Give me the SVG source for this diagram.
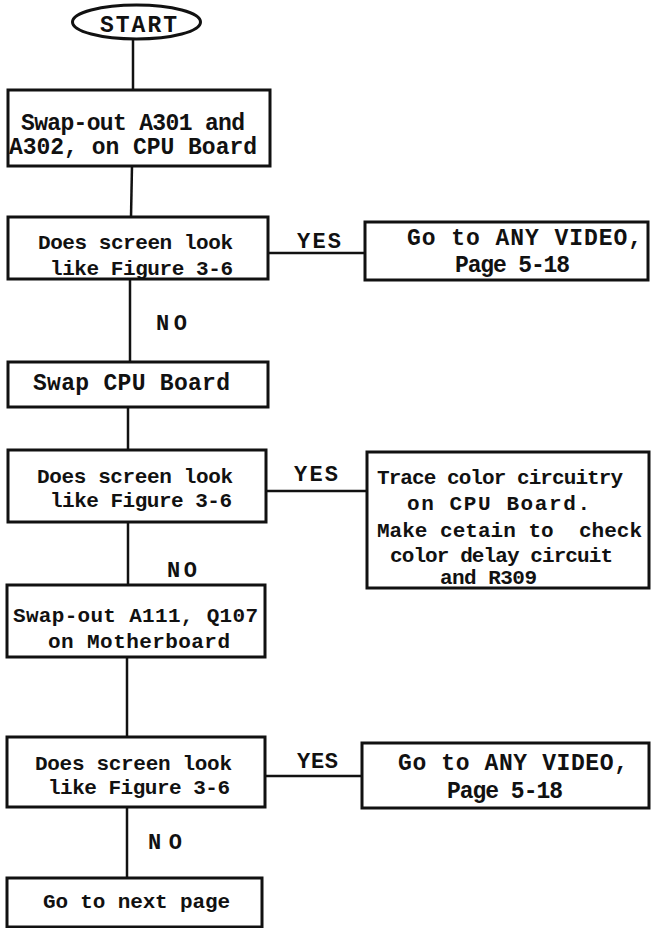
<svg xmlns="http://www.w3.org/2000/svg" width="651" height="928" viewBox="0 0 651 928">
<style>
  .box { fill: #fff; stroke: #111; stroke-width: 3; }
  .conn line { stroke: #111; stroke-width: 2.5; }
  text { font-family: "Liberation Mono", "DejaVu Sans Mono", monospace; font-weight: bold; fill: #111; font-size: 21px; }
  .big { font-size: 23px; }
  .lbl { font-size: 22px; }
</style>
<rect width="651" height="928" fill="#fff"/>
<g id="connectors" class="conn">
  <line x1="133" y1="39" x2="133" y2="90"/>
  <line x1="132" y1="166" x2="131" y2="217"/>
  <line x1="130" y1="279" x2="130" y2="362"/>
  <line x1="268" y1="253" x2="365" y2="253"/>
  <line x1="128" y1="407" x2="128" y2="450"/>
  <line x1="266" y1="491" x2="367" y2="491"/>
  <line x1="128" y1="522" x2="128" y2="585"/>
  <line x1="127" y1="657" x2="127" y2="737"/>
  <line x1="265" y1="776" x2="362" y2="776"/>
  <line x1="127" y1="807" x2="127" y2="878"/>
  <text x="297" y="248" class="lbl" textLength="44">YES</text>
  <text x="156" y="330" class="lbl" textLength="31">NO</text>
  <text x="294" y="481" class="lbl" textLength="44">YES</text>
  <text x="167" y="577" class="lbl" textLength="30">NO</text>
  <text x="297" y="768" class="lbl" textLength="41">YES</text>
  <text x="148" y="849" class="lbl" textLength="34">NO</text>
</g>
<g id="start">
  <ellipse class="box" cx="136.5" cy="22" rx="64" ry="17"/>
  <text x="100" y="32" class="big" textLength="77">START</text>
</g>
<g id="swap-a301">
  <rect class="box" x="8" y="90" width="262" height="76"/>
  <text x="21" y="130" class="big" textLength="224">Swap-out A301 and</text>
  <text x="9" y="154" class="big" textLength="248">A302, on CPU Board</text>
</g>
<g id="check1">
  <rect class="box" x="8" y="217" width="260" height="62"/>
  <text x="38" y="249" textLength="195">Does screen look</text>
  <text x="50" y="275" textLength="183">like Figure 3-6</text>
</g>
<g id="video1">
  <rect class="box" x="365" y="222" width="283" height="58"/>
  <text x="407" y="245" class="big" textLength="235">Go to ANY VIDEO,</text>
  <text x="455" y="272" class="big" textLength="115">Page 5-18</text>
</g>
<g id="swap-cpu">
  <rect class="box" x="8" y="362" width="260" height="45"/>
  <text x="33" y="390" class="big" textLength="197">Swap CPU Board</text>
</g>
<g id="check2">
  <rect class="box" x="8" y="450" width="258" height="72"/>
  <text x="37" y="483" textLength="196">Does screen look</text>
  <text x="50" y="507" textLength="182">like Figure 3-6</text>
</g>
<g id="trace">
  <rect class="box" x="367" y="452" width="282" height="136"/>
  <text x="377" y="484" textLength="246">Trace color circuitry</text>
  <text x="407" y="510" textLength="183">on CPU Board.</text>
  <text x="377" y="537" textLength="265" xml:space="preserve">Make cetain to  check</text>
  <text x="390" y="562" textLength="223">color delay circuit</text>
  <text x="440" y="584" textLength="97">and R309</text>
</g>
<g id="swap-a111">
  <rect class="box" x="7" y="585" width="258" height="72"/>
  <text x="13" y="622" textLength="245">Swap-out A111, Q107</text>
  <text x="48" y="648" textLength="182">on Motherboard</text>
</g>
<g id="check3">
  <rect class="box" x="7" y="737" width="258" height="70"/>
  <text x="35" y="770" textLength="197">Does screen look</text>
  <text x="48" y="794" textLength="182">like Figure 3-6</text>
</g>
<g id="video2">
  <rect class="box" x="362" y="743" width="287" height="65"/>
  <text x="398" y="770" class="big" textLength="230">Go to ANY VIDEO,</text>
  <text x="447" y="798" class="big" textLength="116">Page 5-18</text>
</g>
<g id="next-page">
  <rect class="box" x="7" y="878" width="255" height="49"/>
  <text x="43" y="908" textLength="187">Go to next page</text>
</g>
</svg>
